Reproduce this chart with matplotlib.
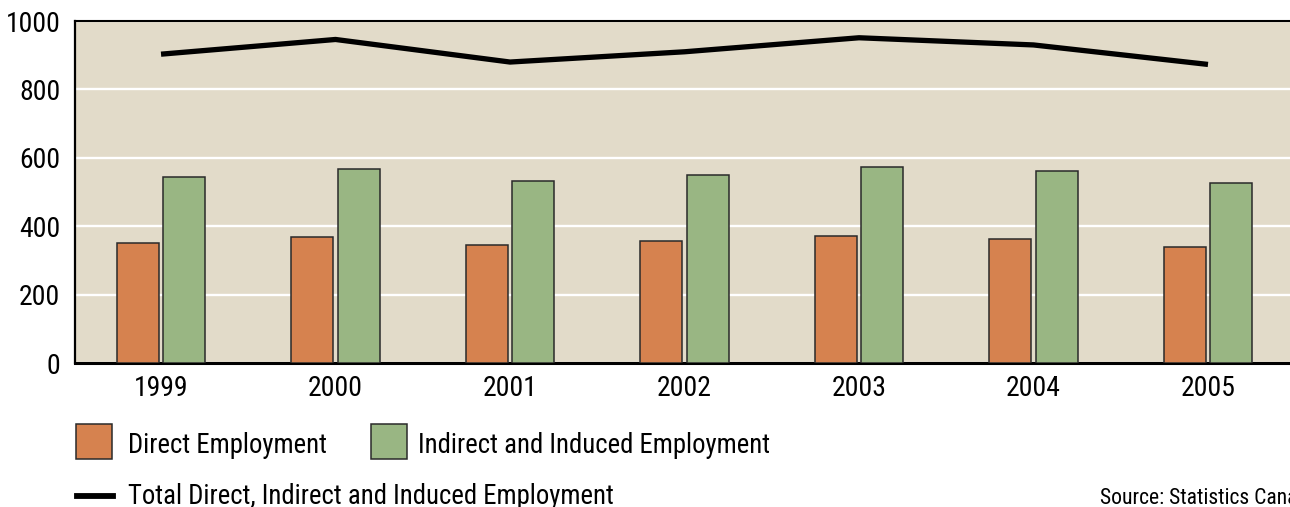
import matplotlib.pyplot as plt
from matplotlib.patches import Rectangle
from matplotlib.lines import Line2D
import numpy as np

plt.rcParams['font.family'] = ['Roboto Condensed', 'DejaVu Sans']

years = ['1999', '2000', '2001', '2002', '2003', '2004', '2005']
direct = [352, 368, 345, 358, 371, 363, 340]
indirect = [543, 568, 532, 551, 573, 560, 526]
total = [903, 946, 880, 910, 951, 930, 873]

orange = '#d6824f'
green = '#99b683'
edge = '#2a2a2a'
bg = '#e2dbc9'

W, H = 1290, 507
fig = plt.figure(figsize=(W / 100, H / 100), dpi=100)
ax = fig.add_axes([75 / W, 144 / H, 1 - 75 / W, 342 / H])
ax.set_facecolor(bg)

x = np.arange(len(years))
w = 0.24
ax.bar(x - 0.134, direct, w, color=orange, edgecolor=edge, linewidth=1.1, zorder=3)
ax.bar(x + 0.134, indirect, w, color=green, edgecolor=edge, linewidth=1.1, zorder=3)
ax.plot(x, total, color='black', linewidth=3.8, solid_capstyle='butt', zorder=4)

ax.set_xlim(-0.493, 6.47)
ax.set_ylim(0, 1000)
ax.set_yticks([0, 200, 400, 600, 800, 1000])
ax.set_xticks(x)
ax.set_xticklabels(years)
ax.tick_params(length=0, labelsize=20, colors='black')
ax.tick_params(axis='x', pad=9)
ax.tick_params(axis='y', pad=10.5)
ax.yaxis.grid(True, color='white', linewidth=1.7, zorder=1)
ax.set_axisbelow(True)

ax.spines['right'].set_visible(False)
ax.spines['top'].set_linewidth(1.5)
ax.spines['left'].set_linewidth(1.6)
ax.spines['bottom'].set_linewidth(2.2)

# legend drawn by hand in figure pixels
def fx(px):
    return px / W

def fy(py):
    return 1 - py / H

fig.add_artist(Rectangle((fx(76), fy(459.3)), 36 / W, 35 / H, facecolor=orange,
                         edgecolor=edge, linewidth=1.1, transform=fig.transFigure))
fig.text(fx(128), fy(452.7), 'Direct Employment', fontsize=19.3, va='baseline')
fig.add_artist(Rectangle((fx(370.5), fy(459.3)), 36 / W, 35 / H, facecolor=green,
                         edgecolor=edge, linewidth=1.1, transform=fig.transFigure))
fig.text(fx(418), fy(452.7), 'Indirect and Induced Employment', fontsize=19.3, va='baseline')
fig.add_artist(Line2D([fx(76.5), fx(112.7)], [fy(496), fy(496)], color='black',
                      linewidth=4.2, transform=fig.transFigure))
fig.text(fx(128), fy(503.5), 'Total Direct, Indirect and Induced Employment',
         fontsize=19.3, va='baseline')

fig.text(fx(1100.5), fy(503.5), 'Source: Statistics Canada', fontsize=15.6, va='baseline')

fig.savefig('out.png', dpi=100)
